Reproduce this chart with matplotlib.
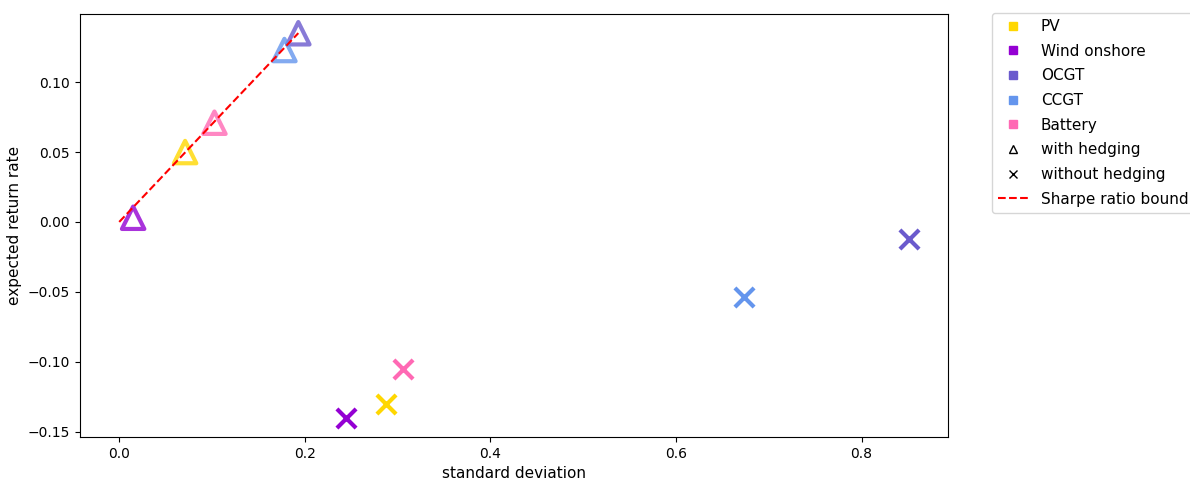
import numpy as np
import matplotlib
matplotlib.use('Agg')
import matplotlib.pyplot as plt
from matplotlib.lines import Line2D

# technologies and their colours
techs   = ['PV', 'Wind onshore', 'OCGT', 'CCGT', 'Battery']
colours = ['#FFD700', '#9400D3', '#6A5ACD', '#6495ED', '#FF69B4']

# risk / return with hedging
std_hedged = [0.071, 0.015, 0.193, 0.178, 0.1026]
ret_hedged = [0.050, 0.003, 0.135, 0.123, 0.071]

# risk / return without hedging
std_unhedged = [0.288, 0.244, 0.851, 0.673, 0.3055]
ret_unhedged = [-0.130, -0.140, -0.012, -0.054, -0.105]

# Sharpe ratio bound (slope through the origin)
sharpe_slope = 0.70
sharpe_std = [0.0, 0.193]

fig, ax = plt.subplots(figsize=(11.9, 4.79))

for i, tech in enumerate(techs):
    ax.scatter(std_hedged[i], ret_hedged[i], marker='^', s=260,
               facecolors='none', edgecolors=colours[i], linewidths=3,
               alpha=0.8, zorder=3)
    ax.scatter(std_unhedged[i], ret_unhedged[i], marker='x', s=190,
               color=colours[i], linewidths=3, zorder=3)

sx = np.array(sharpe_std)
ax.plot(sx, sharpe_slope * sx, 'r--', lw=1.5, zorder=4)

ax.set_xlabel('standard deviation', fontsize=11)
ax.set_ylabel('expected return rate', fontsize=11)
ax.set_xticks([0.0, 0.2, 0.4, 0.6, 0.8])
ax.set_yticks([-0.15, -0.10, -0.05, 0.0, 0.05, 0.10])

handles = [Line2D([], [], marker='s', ls='none', color=c, markersize=6)
           for c in colours]
handles += [
    Line2D([], [], marker='^', ls='none', markerfacecolor='none',
           markeredgecolor='k', markersize=6),
    Line2D([], [], marker='x', ls='none', color='k', markersize=6),
    Line2D([], [], color='r', ls='--'),
]
labels = techs + ['with hedging', 'without hedging', 'Sharpe ratio bound']
ax.legend(handles, labels, loc='upper left', bbox_to_anchor=(1.05, 1.002),
          fontsize=11, labelspacing=0.63, borderaxespad=0)

fig.subplots_adjust(left=0.067, right=0.797, top=0.971, bottom=0.088)
fig.savefig('out.png', dpi=100)
